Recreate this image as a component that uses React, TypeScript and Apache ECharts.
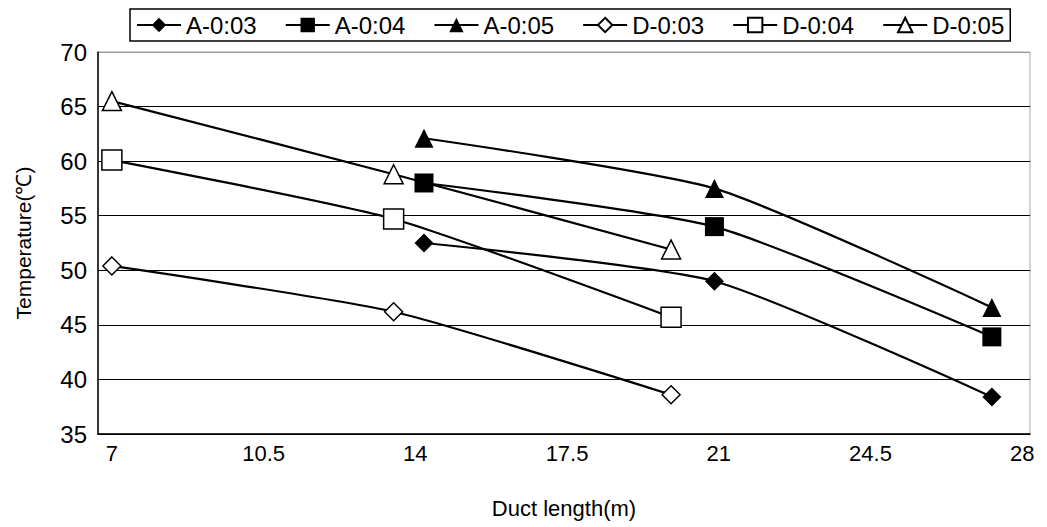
import React, { useEffect, useRef } from "react";
import * as echarts from "echarts";

const seriesNames = ["A-0:03", "A-0:04", "A-0:05", "D-0:03", "D-0:04", "D-0:05"];
const xA = [14.2, 20.9, 27.3];
const xD = [7, 13.5, 19.9];
const a003 = [52.5, 49.0, 38.4];
const a004 = [58.0, 54.0, 43.9];
const a005 = [62.1, 57.5, 46.6];
const d003 = [50.4, 46.2, 38.6];
const d004 = [60.1, 54.7, 45.7];
const d005 = [65.5, 58.8, 51.9];
const xTicks = [7, 10.5, 14, 17.5, 21, 24.5, 28];

const FONT = "Liberation Sans";

export default function App() {
  const ref = useRef<HTMLDivElement>(null);
  useEffect(() => {
    document.body.style.margin = "0";
    if (!ref.current) return;
    const chart = echarts.init(ref.current, undefined, { renderer: "svg" });
    const mk = (name: string, xs: number[], ys: number[], symbol: string, size: number, filled: boolean) => ({
      name,
      type: "line",
      data: xs.map((x, i) => [x, ys[i]]),
      symbol,
      symbolSize: size,
      smooth: 0.2,
      lineStyle: { color: "#000", width: 2.2 },
      itemStyle: filled
        ? { color: "#000", borderColor: "#000", borderWidth: 0 }
        : { color: "#fff", borderColor: "#000", borderWidth: 1.5 },
      z: filled ? 3 : 2,
    });
    chart.setOption({
      animation: false,
      backgroundColor: "#fff",
      textStyle: { fontFamily: FONT, color: "#000" },
      grid: {
        left: 98, right: 17, top: 52, bottom: 93,
        outerBoundsMode: "none",
        containLabel: false,
        show: true, borderColor: "#aaa", borderWidth: 1,
      },
      legend: {
        top: 9,
        left: 130,
        data: seriesNames,
        itemWidth: 44,
        itemHeight: 18,
        itemGap: 28,
        padding: [4, 6],
        borderColor: "#000",
        borderWidth: 1.5,
        textStyle: { fontFamily: FONT, fontSize: 24, color: "#000" },
      },
      xAxis: {
        type: "value",
        min: 6.68,
        max: 28.18,
        name: "Duct length(m)",
        nameLocation: "middle",
        nameGap: 63,
        nameTextStyle: { fontFamily: FONT, fontSize: 22, color: "#000" },
        axisLine: { show: true, lineStyle: { color: "#000", width: 1.5 } },
        axisTick: { show: false },
        splitLine: { show: false },
        axisLabel: { customValues: xTicks, fontFamily: FONT, fontSize: 22, color: "#000", margin: 8 },
      },
      yAxis: {
        type: "value",
        min: 35,
        max: 70,
        interval: 5,
        name: "Temperature(℃)",
        nameLocation: "middle",
        nameGap: 64,
        nameTextStyle: { fontFamily: FONT, fontSize: 21, color: "#000" },
        axisLine: { show: true, lineStyle: { color: "#000", width: 1.5 } },
        axisTick: { show: false },
        axisLabel: { fontFamily: FONT, fontSize: 24, color: "#000", margin: 11 },
        splitLine: {
          show: true,
          lineStyle: { color: ["#000", "#000", "#000", "#000", "#000", "#000", "#000", "#999"], width: 1 },
        },
      },
      series: [
        mk(seriesNames[0], xA, a003, "diamond", 19, true),
        mk(seriesNames[1], xA, a004, "rect", 19, true),
        mk(seriesNames[2], xA, a005, "triangle", 19, true),
        mk(seriesNames[3], xD, d003, "diamond", 18, false),
        mk(seriesNames[4], xD, d004, "rect", 20, false),
        mk(seriesNames[5], xD, d005, "triangle", 19, false),
      ],
    });
    return () => chart.dispose();
  }, []);
  return <div ref={ref} style={{ width: 1047, height: 527 }} />;
}
